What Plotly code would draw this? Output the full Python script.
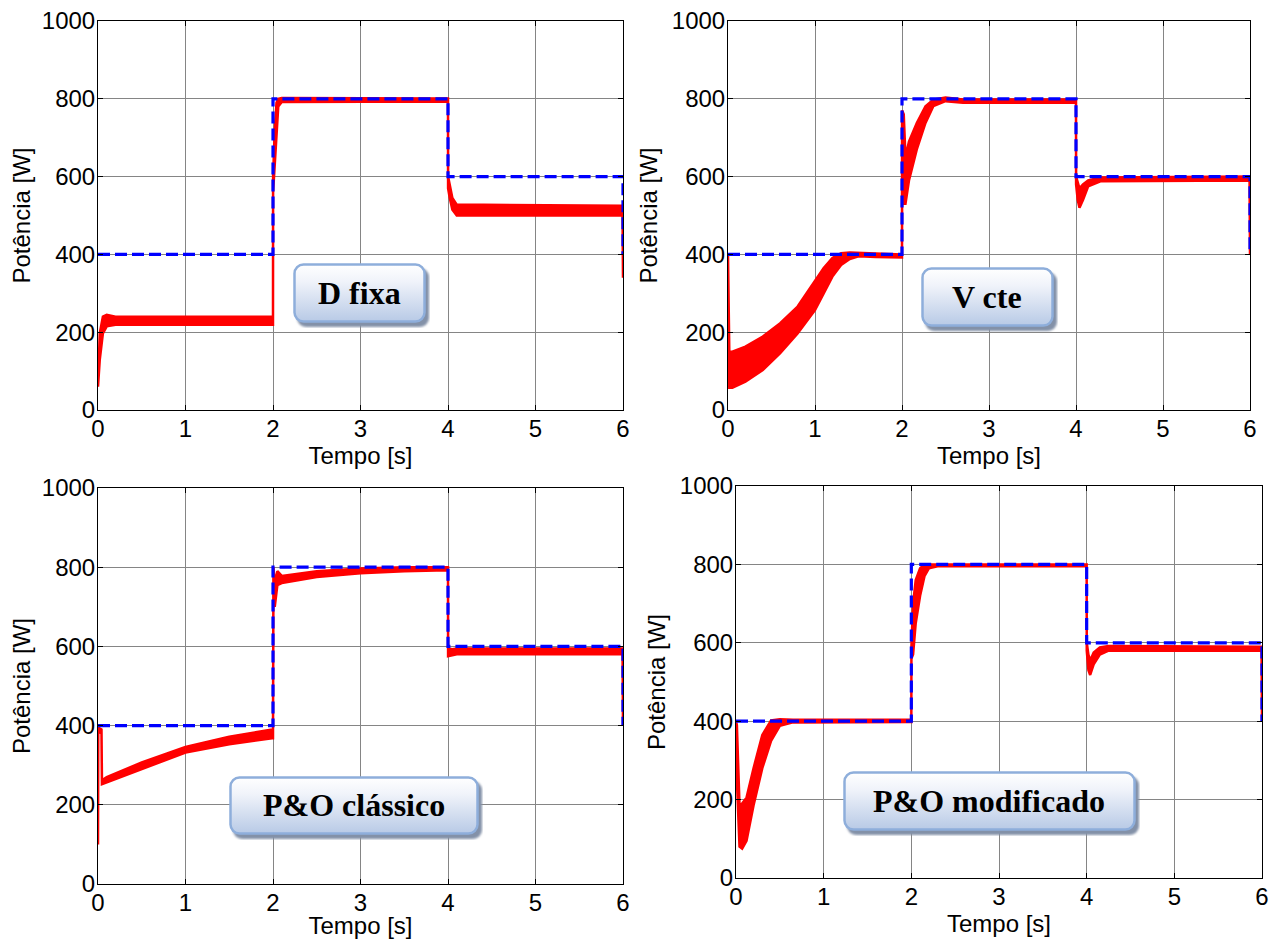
import base64
import plotly.graph_objects as go

# ---------------- data ----------------
X_TICKS = [0, 1, 2, 3, 4, 5, 6]
Y_TICKS = [0, 200, 400, 600, 800, 1000]

# reference power (blue dashed), identical in the four panels
REF_T = [0, 2, 2, 4, 4, 6, 6]
REF_P = [400, 400, 800, 800, 600, 600, 400]

# measured power: oscillation band (lower / upper envelope)
DFIXA_T = [0, 0.02, 0.056, 0.1, 0.2, 2.0, 2.001, 2.02, 2.04, 2.06, 2.1, 3.99, 4.0, 4.001, 4.02, 4.05, 4.1, 5.995, 6.0]
DFIXA_LO = [60, 129, 197, 215, 219, 219, 560, 640, 700, 780, 792, 793, 793, 570, 545, 515, 500, 500, 340]
DFIXA_HI = [60, 197, 240, 245, 240, 240, 600, 720, 790, 800, 802, 801, 801, 600, 575, 545, 528, 525, 345]

VCTE_T = [0, 0.015, 0.05, 0.2, 0.4, 0.6, 0.8, 1.0, 1.1, 1.2, 1.3, 1.4, 1.5, 1.7, 1.99, 2.0, 2.001, 2.02, 2.04,
          2.08, 2.17, 2.27, 2.36, 2.5, 2.7, 3.99, 4.0, 4.001, 4.02, 4.04, 4.08, 4.14, 4.28, 5.995, 6.0]
VCTE_LO = [400, 57, 57, 73, 103, 146, 197, 257, 300, 343, 373, 388, 395, 393, 392, 392, 540, 530, 530,
           590, 670, 738, 781, 794, 790, 790, 790, 580, 540, 520, 540, 575, 588, 590, 400]
VCTE_HI = [400, 150, 150, 163, 189, 223, 266, 334, 365, 391, 403, 405, 404, 402, 400, 400, 770, 760, 650,
           690, 738, 781, 798, 803, 798, 798, 798, 600, 585, 570, 580, 590, 598, 600, 400]

POCL_T = [0, 0.003, 0.04, 0.045, 0.1, 0.5, 1.0, 1.5, 1.99, 2.0, 2.005, 2.02, 2.05, 2.1, 2.5, 3.0, 3.5, 3.99,
          4.0, 4.001, 4.05, 4.1, 5.995, 6.0]
POCL_LO = [100, 385, 380, 252, 255, 290, 332, 353, 368, 368, 760, 700, 755, 760, 775, 785, 790, 792,
           792, 575, 578, 580, 580, 400]
POCL_HI = [100, 395, 390, 262, 270, 307, 346, 372, 390, 390, 800, 760, 790, 778, 790, 797, 800, 800,
           800, 595, 593, 595, 595, 400]

POMOD_T = [0, 0.01, 0.04, 0.07, 0.12, 0.2, 0.3, 0.4, 0.5, 0.65, 1.99, 2.0, 2.001, 2.02, 2.05, 2.1, 2.15,
           2.2, 2.3, 3.99, 4.0, 4.001, 4.02, 4.04, 4.08, 4.15, 4.25, 5.995, 6.0]
POMOD_LO = [400, 250, 80, 75, 95, 185, 280, 350, 388, 397, 398, 398, 560, 570, 650, 720, 770,
            790, 795, 795, 795, 580, 530, 518, 545, 570, 580, 580, 400]
POMOD_HI = [400, 390, 185, 190, 205, 280, 365, 402, 405, 404, 404, 404, 590, 700, 760, 790, 800,
            800, 800, 800, 800, 600, 570, 555, 575, 588, 592, 590, 400]

SERIES = [(DFIXA_T, DFIXA_LO, DFIXA_HI), (VCTE_T, VCTE_LO, VCTE_HI),
          (POCL_T, POCL_LO, POCL_HI), (POMOD_T, POMOD_LO, POMOD_HI)]
LABELS = ["D fixa", "V cte", "P&O clássico", "P&O modificado"]
X_TITLE = "Tempo [s]"
Y_TITLE = "Potência [W]"

# ---------------- layout geometry (target window pixels) ----------------
W, H = 1277, 939
OFF = 8                      # page body margin
FW, FH = W - OFF, H - OFF    # figure size
PANELS = [(98, 623, 21, 410), (728, 1250, 21, 410), (98, 623, 488, 884), (736, 1262, 486, 878)]
BOXES = [(293, 263, 137, 65), (921, 267, 137, 65), (229, 776, 254, 64), (843, 771, 297, 65)]


def px(x):
    return (x - OFF) / FW


def py(y):
    return 1 - (y - OFF) / FH


SANS = "Liberation Sans, Arial, sans-serif"
SERIF = "Liberation Serif, Times New Roman, serif"


def box_image(w, h):
    r = 9
    svg = (
        f"<svg xmlns='http://www.w3.org/2000/svg' width='{w}' height='{h}' viewBox='0 0 {w} {h}'>"
        "<defs><linearGradient id='g' x1='0' y1='0' x2='0' y2='1'>"
        "<stop offset='0' stop-color='#ffffff'/><stop offset='0.3' stop-color='#f0f3fa'/>"
        "<stop offset='1' stop-color='#b8cae6'/></linearGradient>"
        "<filter id='b' x='-10%' y='-10%' width='120%' height='120%'><feGaussianBlur stdDeviation='1'/></filter></defs>"
        f"<rect x='4' y='5' width='{w - 5}' height='{h - 6}' rx='{r}' fill='#8391a8' filter='url(#b)'/>"
        f"<rect x='1.5' y='1.5' width='{w - 7}' height='{h - 8}' rx='{r}' fill='url(#g)' "
        "stroke='#8eaedb' stroke-width='2.5'/></svg>"
    )
    return "data:image/svg+xml;base64," + base64.b64encode(svg.encode()).decode()


fig = go.Figure()
layout = dict(width=FW, height=FH, margin=dict(l=0, r=0, t=0, b=0), paper_bgcolor="white",
              plot_bgcolor="white", showlegend=False, images=[], annotations=[])

for i, (t, lo, hi) in enumerate(SERIES):
    sfx = "" if i == 0 else str(i + 1)
    xa, ya = "x" + sfx, "y" + sfx
    fig.add_trace(go.Scatter(x=t + t[::-1], y=hi + lo[::-1], fill="toself", fillcolor="#ff0000",
                             mode="lines", line=dict(color="#ff0000", width=2.5),
                             xaxis=xa, yaxis=ya, hoverinfo="skip"))
    fig.add_trace(go.Scatter(x=REF_T, y=REF_P, mode="lines",
                             line=dict(color="#0000ff", width=3.2, dash="12px,5px"),
                             xaxis=xa, yaxis=ya, hoverinfo="skip"))

    x0, x1, y0, y1 = PANELS[i]
    common = dict(showgrid=True, gridcolor="#858585", gridwidth=1, showline=True, linecolor="black",
                  linewidth=1, mirror="ticks", ticks="inside", ticklen=5, tickcolor="black",
                  tickfont=dict(family=SANS, size=24, color="black"), zeroline=False,
                  automargin=False, ticklabeloverflow="allow")
    layout["xaxis" + sfx] = dict(common, domain=[px(x0), px(x1)], range=[0, 6], tickvals=X_TICKS,
                                 anchor=ya, ticklabelstandoff=-3,
                                 title=dict(text=X_TITLE, font=dict(family=SANS, size=24, color="black"),
                                            standoff=1))
    layout["yaxis" + sfx] = dict(common, domain=[py(y1), py(y0)], range=[0, 1000],
                                 tickvals=Y_TICKS, anchor=xa, ticklabelstandoff=-3,
                                 title=dict(text=Y_TITLE, font=dict(family=SANS, size=24, color="black"),
                                            standoff=7))

    bx, by, bw, bh = BOXES[i]
    layout["images"].append(dict(source=box_image(bw, bh), xref="paper", yref="paper",
                                 x=px(bx), y=py(by), sizex=bw / FW, sizey=bh / FH,
                                 xanchor="left", yanchor="top", sizing="stretch", layer="above"))
    layout["annotations"].append(dict(text=LABELS[i], xref="paper", yref="paper",
                                      x=px(bx + (bw - 5) / 2), y=py(by + (bh - 6) / 2),
                                      xanchor="center", yanchor="middle", showarrow=False,
                                      font=dict(family=SERIF, size=32, color="black", weight="bold")))

fig.update_layout(**layout)
fig.write_html("out.html")
